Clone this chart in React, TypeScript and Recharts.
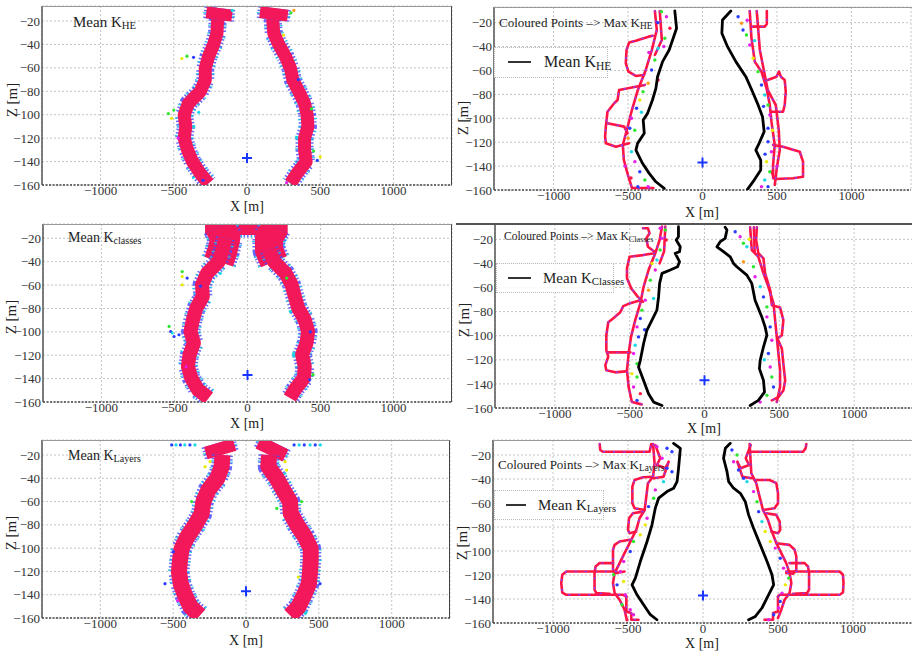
import React from "react";
import { ScatterChart, Scatter, XAxis, YAxis, CartesianGrid } from "recharts";

const xTicks = [-1000, -500, 0, 500, 1000];
const zTicks = [-160, -140, -120, -100, -80, -60, -40, -20];
const station = [[0, -137]];

// ---- Mean K_HE (cloud) ----
const heLeftBand = [[-171, -10.6], [-201, -20], [-205, -30.5], [-228, -40], [-263, -50.4], [-285, -60.4], [-285, -70.4], [-320, -80.3], [-400, -90.3], [-429, -100.2], [-418, -110.2], [-429, -120.1], [-406, -130.1], [-372, -140.1], [-320, -150], [-263, -158.6]];
const heRightBand = [[187, -10.6], [176, -20], [183, -30.5], [217, -40], [263, -50.4], [297, -60.4], [313, -70.4], [354, -80.3], [393, -90.3], [411, -100.2], [416, -110.2], [393, -120.1], [393, -130.1], [404, -140.1], [342, -150], [297, -158.6]];
const heLeftCap = [[-185, -9], [-195, -19]];
const heRightCap = [[188, -9], [178, -19]];
const heStrays = [[-537, -99, "g"], [-515, -103, "y"], [-500, -96, "g"], [-445, -52, "y"], [-410, -50, "g"], [-365, -51, "b"], [-330, -98, "c"], [-470, -120, "m"], [500, -136, "y"], [480, -139, "b"], [455, -131, "g"], [320, -11, "o"], [300, -13, "g"], [-100, -11, "c"], [440, -95, "g"], [-300, -156, "b"], [270, -158, "m"], [350, -70, "b"], [250, -32, "y"]];

// ---- Max K_HE ----
const heMeanLeft = [[-186, -10.2], [-174, -24.7], [-224, -42.9], [-268, -52.6], [-302, -65.2], [-313, -75], [-336, -84.7], [-369, -95.9], [-398, -101.5], [-391, -112.6], [-436, -121], [-447, -126.6], [-403, -137.7], [-358, -146.1], [-313, -153.1], [-257, -158.7]];
const heMeanRight = [[190, -10.2], [134, -17.8], [130, -28.9], [168, -40.1], [224, -52.6], [291, -65.2], [336, -77.8], [369, -87.5], [403, -98.7], [414, -111.2], [380, -121], [358, -126.6], [391, -135], [391, -143.3], [347, -151.7], [302, -159.5]];
const heMaxLeft = [
  [[-320, -10.2], [-307, -26.1], [-340, -42.8], [-381, -59.6], [-434, -76.3], [-474, -93.1], [-508, -109.8], [-535, -122.3], [-528, -134.9], [-501, -147.4], [-474, -158.3], [-330, -158.3]],
  [[-287, -10.2], [-273, -34.5], [-320, -47]],
  [[-334, -31], [-362, -31.7], [-448, -35.1], [-493, -36.7], [-510, -42.8], [-515, -54], [-497, -61], [-448, -64.6], [-392, -63.8]],
  [[-387, -72.1], [-448, -73.6], [-560, -76.3], [-570, -84.7], [-593, -87.4], [-638, -94.5], [-649, -107], [-654, -115.4], [-649, -120.9], [-582, -123.8], [-493, -120.9]],
  [[-638, -104.2], [-526, -107], [-503, -112.6]],
];
const heMaxRight = [
  [[317, -10.2], [329, -33.1], [351, -52.6], [396, -61], [430, -74.9], [452, -88.9], [463, -102.8], [485, -122.3], [474, -139.1], [474, -150.2]],
  [[329, -23.3], [418, -23.3], [432, -21.1], [432, -10.2]],
  [[438, -67.9], [497, -65.2], [514, -61], [526, -65.2], [552, -67.9], [559, -77.7], [552, -88.9], [541, -94.5], [465, -94.5]],
  [[474, -122.3], [541, -123.8], [574, -125.1], [653, -128], [675, -136.3], [675, -148.9], [608, -150.2], [485, -150.8], [463, -144.7]],
  [[364, -10.2], [385, -42.8], [438, -76.3], [492, -88.9], [512, -109.8], [519, -126.5], [499, -141.6], [485, -155.8]],
];
const heMaxPts = [[-275, -10.8, "g"], [-242, -15, "m"], [-219, -24.7, "r"], [-253, -33.1, "g"], [-298, -41.4, "c"], [-320, -51.2, "g"], [-342, -59.6, "b"], [-298, -68, "r"], [-365, -70.7, "o"], [-399, -77.7, "g"], [-421, -84.7, "y"], [-443, -91.6, "b"], [-477, -100, "m"], [-488, -108.4, "b"], [-499, -116.7, "o"], [-477, -128, "c"], [-454, -136.3, "m"], [-421, -144.7, "b"], [-387, -151.6, "g"], [-365, -157.2, "m"], [-434, -157.2, "b"], [-360, -45, "m"], [-410, -95, "c"], [-455, -110, "g"], [-300, -20, "b"], [-260, -40, "m"], [-520, -140, "m"], [-480, -150, "r"],
  [239, -15, "b"], [262, -20.5, "o"], [272, -26.1, "b"], [295, -30.3, "g"], [317, -38.7, "m"], [340, -49.8, "y"], [373, -61, "g"], [396, -72.1, "b"], [418, -80.5, "c"], [440, -88.9, "g"], [452, -97.2, "m"], [440, -108.4, "b"], [440, -119.6, "b"], [463, -128, "m"], [430, -136.3, "y"], [452, -144.7, "g"], [418, -151.6, "c"], [396, -157.2, "m"], [440, -157.2, "b"], [300, -18, "m"], [350, -35, "c"], [410, -90, "b"], [470, -110, "y"], [420, -130, "b"], [500, -140, "m"]];

// ---- Mean K_classes (cloud) ----
const clLeftBand = [[-152, -20], [-170, -30], [-197, -39.9], [-277, -49.9], [-311, -59.8], [-306, -69.8], [-351, -79.7], [-374, -89.7], [-390, -99.7], [-367, -109.6], [-397, -119.6], [-408, -129.5], [-385, -139.5], [-340, -149.4], [-265, -156.6]];
const clRightBand = [[147, -30], [181, -39.9], [261, -49.9], [302, -59.8], [324, -69.8], [347, -79.7], [392, -89.7], [415, -99.7], [404, -109.6], [374, -119.6], [392, -129.5], [386, -139.5], [324, -149.4], [290, -156.6]];
const clTopCap = [[-290, -12], [275, -12]];
const clLeftCap = [[-190, -10], [-152, -20], [-170, -30], [-197, -40]];
const clRightCap = [[190, -10], [147, -20], [147, -30], [181, -40]];
const clStrays = [[-447, -48.5, "g"], [-447, -52.7, "y"], [-413, -54, "b"], [-447, -59.8, "y"], [-537, -95.4, "g"], [-526, -99.7, "b"], [-503, -104, "b"], [-469, -102.5, "b"], [-515, -101, "c"], [449, -136.6, "g"], [426, -141, "b"], [268, -54, "g"], [-186, -50, "c"], [-322, -61, "b"], [430, -100, "b"], [-420, -130, "m"]];

// ---- Max K_Classes ----
const clMeanLeft = [[-174, -9.5], [-174, -17.8], [-189, -20.6], [-162, -26.2], [-167, -30.3], [-196, -31.6], [-167, -38.6], [-180, -42.8], [-229, -45.5], [-284, -48.3], [-300, -56.6], [-307, -67.8], [-318, -78.8], [-351, -87.1], [-385, -95.5], [-407, -106.5], [-429, -120.4], [-441, -126], [-407, -137.1], [-374, -148.1], [-340, -155.1], [-284, -157.9]];
const clMeanRight = [[138, -10], [150, -12.3], [138, -19.2], [105, -22], [83, -26.2], [127, -30.3], [172, -34.5], [194, -40], [216, -42.8], [283, -49.7], [316, -56.6], [338, -70.5], [383, -84.4], [405, -92.7], [417, -99.6], [394, -109.4], [372, -120.4], [367, -127.3], [394, -137.1], [401, -146.8], [360, -153.7], [305, -157.9]];
const clMaxLeft = [
  [[-284, -9.5], [-300, -20.6], [-329, -31.6], [-374, -45.5], [-407, -59.4], [-429, -73.2], [-463, -87.1], [-491, -101], [-507, -114.8], [-518, -128.7], [-507, -142.6], [-485, -155.1], [-420, -157]],
  [[-411, -10.8], [-378, -10.8], [-367, -15], [-389, -19.2], [-378, -26.2], [-334, -30.3]],
  [[-334, -31.6], [-411, -33.1], [-501, -34.5], [-518, -44.1], [-518, -52.4], [-489, -60.8], [-445, -67.8], [-411, -71.9]],
  [[-429, -70.5], [-496, -73], [-543, -75.5], [-563, -80.5], [-609, -85.5], [-643, -88.8], [-656, -99.6], [-656, -112.1], [-643, -117.1], [-663, -124.6], [-656, -128.7], [-596, -130.4], [-529, -129.6]],
  [[-650, -113.8], [-496, -113.8]],
  [[-262, -9.5], [-270, -30], [-300, -40]],
];
const clMaxRight = [
  [[305, -10], [316, -28.9], [360, -34.5], [394, -48.3], [427, -59.4], [461, -73.2], [472, -87.1], [483, -101], [494, -114.8], [505, -128.7], [505, -142.6], [483, -155.1]],
  [[350, -10], [345, -20.6], [360, -31.6], [394, -35.8], [405, -48.3], [439, -62.2], [450, -74.7], [505, -76.6], [527, -87.1], [517, -99.6], [487, -102.4], [517, -110.7], [527, -123.2], [539, -137.1], [527, -145.4], [494, -150.9], [450, -153.7]],
  [[330, -10], [335, -30]],
];
const clMaxPts = [[-296, -10.8, "m"], [-262, -12.3, "g"], [-284, -19.2, "m"], [-256, -20.6, "r"], [-296, -28.9, "g"], [-318, -37.2, "c"], [-329, -45.5, "m"], [-362, -53.9, "g"], [-374, -62.2, "o"], [-340, -69.1, "c"], [-396, -70.5, "m"], [-418, -78.8, "g"], [-429, -85.7, "b"], [-451, -92.7, "m"], [-441, -101, "b"], [-463, -107.9, "c"], [-474, -114.8, "m"], [-451, -123.2, "g"], [-485, -131.5, "y"], [-451, -134.3, "g"], [-474, -142.6, "m"], [-429, -148.1, "r"], [-451, -153.7, "b"], [-350, -40, "y"], [-400, -95, "b"],
  [205, -13.7, "b"], [238, -17.8, "m"], [260, -23.3, "g"], [283, -26.2, "c"], [260, -38.6, "o"], [327, -42.8, "g"], [338, -51.1, "m"], [372, -59.4, "c"], [394, -67.8, "b"], [417, -76.1, "g"], [417, -84.4, "m"], [439, -92.7, "b"], [450, -103.8, "m"], [427, -114.8, "b"], [439, -126, "m"], [450, -134.3, "g"], [461, -142.6, "b"], [417, -149.5, "g"], [372, -155.1, "m"], [300, -20, "y"], [400, -120, "c"]];

// ---- Mean K_Layers (cloud) ----
const lyLeftBand = [[-162, -20], [-167, -30], [-197, -40.1], [-259, -50.1], [-293, -60.2], [-304, -70.2], [-350, -80.3], [-403, -90.3], [-442, -100.4], [-453, -110.4], [-460, -120.5], [-448, -130.5], [-419, -140.5], [-380, -150.6], [-316, -157.8]];
const lyRightBand = [[158, -20], [153, -30], [211, -40.1], [256, -50.1], [302, -60.2], [307, -70.2], [352, -80.3], [405, -90.3], [444, -100.4], [444, -110.4], [439, -120.5], [432, -130.5], [398, -140.5], [359, -150.6], [302, -157.8]];
const lyLeftCap = [[-190, -9.5], [-165, -20]];
const lyRightCap = [[199, -9.5], [158, -20]];
const lyStrays = [[-510, -11.3, "b"], [-480, -11.3, "c"], [-450, -11.3, "b"], [-420, -11.3, "c"], [-385, -11.3, "b"], [-350, -11.3, "c"], [330, -11.3, "b"], [365, -11.3, "c"], [400, -11.3, "b"], [440, -11.3, "c"], [475, -11.3, "b"], [510, -11.3, "c"], [-247, -25.7, "y"], [-281, -30, "y"], [268, -25.7, "y"], [279, -32.9, "y"], [-373, -60, "g"], [211, -65.9, "g"], [382, -60, "g"], [359, -124.8, "y"], [-499, -103, "b"], [-556, -130.5, "b"], [508, -130.5, "b"], [-470, -145, "m"]];

// ---- Max K_Layers ----
const lyMeanLeft = [[-196, -10.3], [-151, -14.4], [-163, -31.1], [-173, -42.2], [-196, -47.7], [-240, -50.5], [-296, -56], [-318, -64.3], [-340, -78.2], [-373, -92.1], [-418, -108.8], [-451, -122.6], [-473, -128.2], [-440, -136.5], [-396, -144.8], [-351, -153.1], [-307, -157.3]];
const lyMeanRight = [[182, -10.3], [149, -14.4], [137, -22.7], [160, -33.9], [171, -42.2], [204, -47.7], [249, -51.9], [282, -58.9], [304, -69.9], [337, -81], [382, -94.9], [427, -108.8], [460, -119.8], [471, -128.2], [437, -136.5], [393, -147.5], [349, -154.5], [304, -157.3]];
const lyMaxLeft = [
  [[-689, -10.8], [-685, -15.8], [-667, -17.3], [-356, -17.3], [-345, -10.8]],
  [[-333, -10.8], [-323, -26.9], [-333, -38.1], [-367, -43.5], [-378, -54.7], [-389, -65.8], [-423, -72.7], [-445, -82.4], [-489, -93.5], [-523, -101.8], [-556, -110.1], [-589, -118.4], [-600, -126.7], [-589, -135.1], [-556, -140.6], [-523, -148.9], [-511, -155.9]],
  [[-333, -38.1], [-400, -38.6], [-456, -40.8], [-471, -46.4], [-471, -60.2], [-456, -64.4], [-389, -65.8]],
  [[-400, -67.2], [-467, -68.5], [-493, -72.7], [-500, -82.4], [-489, -85.2], [-445, -83.8]],
  [[-489, -90.7], [-556, -92.1], [-589, -94.9], [-600, -99], [-600, -115.7], [-578, -118.4], [-523, -117.1]],
  [[-578, -117.1], [-911, -117.1], [-938, -119.8], [-945, -126.7], [-938, -134.6], [-911, -136.5], [-533, -136.5], [-511, -137.9]],
  [[-600, -110.1], [-689, -110.1], [-716, -112.9], [-723, -118.4], [-723, -132.3], [-711, -135.1], [-623, -135.6]],
  [[-511, -137.9], [-511, -150.4], [-478, -151.7], [-478, -157.3], [-430, -157.3]],
  [[-318, -11.7], [-285, -22.7], [-307, -28.3], [-251, -31.1], [-229, -25.6], [-263, -38.1], [-329, -39.4]],
];
const lyMaxRight = [
  [[311, -17.3], [667, -17.3], [684, -14.5], [689, -10.8]],
  [[311, -10.8], [322, -35.2], [355, -43.5], [377, -54.7], [400, -65.8], [433, -74.1], [455, -82.4], [489, -93.5], [522, -101.8], [555, -110.1], [577, -118.4], [589, -126.7], [577, -135.1], [544, -140.6], [522, -148.9], [500, -155.9]],
  [[344, -40.8], [444, -40.8], [489, -43.5], [500, -51.9], [500, -60.2], [477, -64.4], [400, -65.8]],
  [[422, -68.5], [489, -69.9], [511, -75.5], [515, -82.4], [500, -85.2], [455, -83.8]],
  [[489, -93.5], [577, -94.9], [611, -99], [622, -104.6], [622, -115.7], [600, -119], [555, -118.4]],
  [[555, -117.1], [911, -117.1], [933, -119.8], [937, -126.7], [933, -134.6], [911, -136.5], [511, -136.5], [500, -137.9]],
  [[577, -110.1], [677, -110.1], [700, -112.9], [707, -118.4], [707, -132.3], [693, -135.1], [600, -135.6]],
  [[500, -137.9], [500, -150.4], [467, -151.7], [467, -157.3], [410, -157.3]],
  [[318, -11.7], [285, -22.7], [307, -28.3], [251, -31.1], [229, -25.6], [263, -38.1], [329, -39.4]],
];
const lyMaxPts = [[-307, -13.1, "m"], [-240, -14.4, "b"], [-207, -17.3, "b"], [-273, -22.7, "m"], [-240, -31.1, "b"], [-207, -33.9, "b"], [-263, -42.2, "c"], [-318, -49.1, "m"], [-329, -56, "g"], [-363, -63, "b"], [-373, -72.7, "m"], [-385, -78.2, "y"], [-418, -86.6, "y"], [-463, -92.1, "g"], [-485, -100.4, "b"], [-529, -108.8, "m"], [-551, -117.1, "m"], [-596, -119.8, "g"], [-573, -128.2, "b"], [-529, -125.4, "y"], [-518, -136.5, "m"], [-540, -144.8, "g"], [-485, -149, "m"], [-463, -153.1, "m"], [-507, -157.3, "r"],
  [193, -15.8, "b"], [227, -20, "g"], [204, -25.6, "m"], [237, -32.5, "b"], [271, -39.4, "b"], [293, -42.2, "c"], [337, -50.5, "m"], [360, -58.9, "g"], [371, -67.2, "b"], [393, -75.5, "c"], [415, -83.8, "y"], [449, -92.1, "y"], [482, -97.6, "m"], [515, -106, "b"], [537, -114.3, "m"], [571, -122.6, "g"], [549, -128.2, "y"], [527, -135.1, "m"], [515, -142, "b"], [504, -147.5, "m"], [471, -153.1, "b"], [437, -157.3, "m"]];

const palette: Record<string, string> = { r: "#ff1744", g: "#2ee62e", b: "#2a3cff", c: "#19d9e6", m: "#e61ee6", y: "#eaea00", o: "#ff9a1a" };
const serif = '"Liberation Serif", "Times New Roman", serif';
const RED = "#ff1446";

const toPts = (a: number[][]) => a.map(([x, z]) => ({ x, z }));
const toDots = (a: any[]) => a.map(([x, z, c]) => ({ x, z, c: palette[c] }));
const fmt = (v: number) => String(v).replace("-", "\u2212");

const noShape = () => <g />;
const dotShape = (r: number) => (p: any) => <circle cx={p.cx} cy={p.cy} r={r} fill={p.payload ? p.payload.c : p.c} />;
const crossShape = (p: any) => <path d={`M${p.cx - 5},${p.cy}h10M${p.cx},${p.cy - 5}v10`} stroke="#1836ff" strokeWidth={2} fill="none" />;

function trace(key: string, data: number[][], stroke: string, width: number, extra: any = {}) {
  return (
    <Scatter key={key} data={toPts(data)} shape={noShape} isAnimationActive={false}
      line={{ stroke, strokeWidth: width, strokeLinejoin: "round", strokeLinecap: "round", fill: "none", ...extra }} />
  );
}

// dense point cloud drawn as a speckled band along its centre line
function cloud(key: string, data: number[][], w: number) {
  return [
    trace(key + "a", data, "#4a4cff", w + 5, { strokeDasharray: "1.5 2", strokeLinecap: "butt", strokeOpacity: 0.85 }),
    trace(key + "b", data, "#22cfe0", w + 6, { strokeDasharray: "1 9", strokeDashoffset: 4, strokeLinecap: "butt" }),
    trace(key + "c", data, "#f2185a", w, { strokeLinecap: "butt" }),
  ];
}

function redTraces(key: string, list: number[][][]) {
  return list.flatMap((d, i) => [
    trace(key + i, d, RED, 2.6),
    trace(key + i + "s", d, "#8a3cff", 1.4, { strokeDasharray: "1 9" }),
  ]);
}

function dots(key: string, data: any[], r: number) {
  return <Scatter key={key} data={toDots(data)} shape={dotShape(r)} isAnimationActive={false} />;
}

function Panel(props: any) {
  const { left, top, width, height, margin, xH, zTop, children } = props;
  return (
    <div style={{ position: "absolute", left, top }}>
      <ScatterChart width={width} height={height} margin={margin}>
        <CartesianGrid stroke="#c4c4c4" strokeDasharray="2 2" />
        <XAxis type="number" dataKey="x" domain={[-1400, 1400]} ticks={xTicks} allowDataOverflow height={xH}
          tickLine={false} tickSize={0} tickMargin={1} axisLine={{ stroke: "#444", strokeWidth: 1.5, strokeDasharray: "2 1.5" }}
          tick={{ fill: "#333", fontSize: 13, fontFamily: serif }} tickFormatter={fmt} />
        <YAxis type="number" dataKey="z" domain={[-160, zTop]} ticks={zTicks} allowDataOverflow width={36}
          tickLine={false} tickSize={0} tickMargin={2} axisLine={{ stroke: "#555", strokeWidth: 1.5 }}
          tick={{ fill: "#333", fontSize: 13, fontFamily: serif }} tickFormatter={fmt} />
        {children}
        <Scatter data={toPts(station)} shape={crossShape} isAnimationActive={false} />
      </ScatterChart>
    </div>
  );
}

const Sub = ({ t }: { t: string }) => (
  <span style={{ fontSize: "0.72em", position: "relative", top: "0.2em" }}>{t}</span>
);

function Txt({ x, y, size, children, center }: any) {
  return (
    <div style={{ position: "absolute", left: x, top: y - size * 0.6, fontFamily: serif, fontSize: size, lineHeight: 1.2,
      color: "#222", whiteSpace: "nowrap", transform: center ? "translateX(-50%)" : undefined }}>{children}</div>
  );
}

function XLabel({ x, y }: any) {
  return (
    <div style={{ position: "absolute", left: x, top: y, fontFamily: serif, fontSize: 14, lineHeight: 1, color: "#222",
      whiteSpace: "nowrap", transform: "translate(-50%, -50%)" }}>X [m]</div>
  );
}

function ZLabel({ x, y }: any) {
  return (
    <div style={{ position: "absolute", left: x, top: y, fontFamily: serif, fontSize: 15, color: "#222", whiteSpace: "nowrap",
      transform: "translate(-50%, -50%) rotate(-90deg)" }}>Z [m]</div>
  );
}

function LegendBox({ x, y, w, h, lineX1, lineX2, lineY }: any) {
  return (
    <>
      <div style={{ position: "absolute", left: x, top: y, width: w, height: h, border: "1px dotted #bbb", background: "rgba(255,255,255,0.85)", boxSizing: "border-box" }} />
      <div style={{ position: "absolute", left: lineX1, top: lineY - 1, width: lineX2 - lineX1, height: 1.5, background: "#333" }} />
    </>
  );
}

function Frame({ x, y, w, h, right }: any) {
  return (
    <div style={{ position: "absolute", left: x, top: y, width: w, height: h, boxSizing: "border-box",
      borderTop: "1px solid #999", borderRight: right ? "1.5px solid #444" : "none", pointerEvents: "none" }} />
  );
}

export default function App() {
  return (
    <div style={{ position: "absolute", left: 0, top: 0, width: 912, height: 652, overflow: "hidden", background: "#fff" }}>
      {/* top left */}
      <Panel left={0} top={0} width={456} height={215} margin={{ top: 6, right: 4, bottom: 0, left: 6 }} xH={30} zTop={-7.2}>
        {cloud("heL", heLeftBand, 13)}
        {cloud("heR", heRightBand, 13)}
        {cloud("heLc", heLeftCap, 26)}
        {cloud("heRc", heRightCap, 28)}
        {dots("heS", heStrays, 1.6)}
      </Panel>
      {/* top right */}
      <Panel left={456} top={0} width={456} height={215} margin={{ top: 7, right: 1, bottom: 0, left: 2 }} xH={25} zTop={-6.9}>
        {redTraces("heML", heMaxLeft)}
        {redTraces("heMR", heMaxRight)}
        {dots("heMP", heMaxPts, 1.7)}
        {trace("heMeanL", heMeanLeft, "#000", 2.8)}
        {trace("heMeanR", heMeanRight, "#000", 2.8)}
      </Panel>
      {/* middle left */}
      <Panel left={0} top={210} width={456} height={220} margin={{ top: 14, right: 4, bottom: 0, left: 7 }} xH={28} zTop={-7.8}>
        {cloud("clT", clTopCap, 12)}
        {cloud("clLc", clLeftCap, 30)}
        {cloud("clRc", clRightCap, 28)}
        {cloud("clL", clLeftBand, 14)}
        {cloud("clR", clRightBand, 14)}
        {dots("clS", clStrays, 1.6)}
      </Panel>
      {/* middle right */}
      <Panel left={456} top={210} width={458} height={220} margin={{ top: 14, right: 0, bottom: 0, left: 3 }} xH={22} zTop={-7.3}>
        {redTraces("clML", clMaxLeft)}
        {redTraces("clMR", clMaxRight)}
        {dots("clMP", clMaxPts, 1.7)}
        {trace("clMeanL", clMeanLeft, "#000", 2.8)}
        {trace("clMeanR", clMeanRight, "#000", 2.8)}
      </Panel>
      {/* bottom left */}
      <Panel left={0} top={430} width={456} height={222} margin={{ top: 10, right: 6, bottom: 0, left: 6 }} xH={34} zTop={-7.1}>
        {cloud("lyLc", lyLeftCap, 30)}
        {cloud("lyRc", lyRightCap, 30)}
        {cloud("lyL", lyLeftBand, 16)}
        {cloud("lyR", lyRightBand, 16)}
        {dots("lyS", lyStrays, 1.6)}
      </Panel>
      {/* bottom right */}
      <Panel left={456} top={430} width={457} height={222} margin={{ top: 10, right: 0, bottom: 0, left: 1 }} xH={29} zTop={-7.5}>
        {redTraces("lyML", lyMaxLeft)}
        {redTraces("lyMR", lyMaxRight)}
        {dots("lyMP", lyMaxPts, 1.7)}
        {trace("lyMeanL", lyMeanLeft, "#000", 2.8)}
        {trace("lyMeanR", lyMeanRight, "#000", 2.8)}
      </Panel>

      <Frame x={42} y={6} w={410} h={179} right />
      <Frame x={43} y={224} w={409} h={178} right />
      <Frame x={42} y={440} w={408} h={178} right />
      <Frame x={494} y={7} w={418} h={183} />
      <div style={{ position: "absolute", left: 456, top: 223, width: 456, height: 2, background: "#555" }} />
      <Frame x={493} y={440} w={419} h={183} />

      {/* panel titles / legends */}
      <Txt x={73} y={22} size={15}>Mean K<Sub t="HE" /></Txt>
      <Txt x={68} y={238} size={14}>Mean K<Sub t="classes" /></Txt>
      <Txt x={68} y={456} size={14}>Mean K<Sub t="Layers" /></Txt>

      <LegendBox x={494} y={47} w={114} h={31} lineX1={508} lineX2={531} lineY={62} />
      <Txt x={499} y={23} size={13}>Coloured Points –&gt; Max K<Sub t="HE" /></Txt>
      <Txt x={544} y={62} size={16}>Mean K<Sub t="HE" /></Txt>

      <LegendBox x={496} y={263} w={118} h={30} lineX1={508} lineX2={531} lineY={278} />
      <Txt x={504} y={237} size={11.5}>Coloured Points –&gt; Max K<Sub t="Classes" /></Txt>
      <Txt x={543} y={278} size={15}>Mean K<Sub t="Classes" /></Txt>

      <LegendBox x={494} y={490} w={110} h={30} lineX1={506} lineX2={526} lineY={505} />
      <Txt x={498} y={465} size={13}>Coloured Points –&gt; Max K<Sub t="Layers" /></Txt>
      <Txt x={538} y={505} size={15}>Mean K<Sub t="Layers" /></Txt>

      {/* axis titles */}
      <XLabel x={247} y={207} />
      <XLabel x={702} y={213} />
      <XLabel x={247} y={424} />
      <XLabel x={704} y={429} />
      <XLabel x={246} y={641} />
      <XLabel x={702} y={644} />
      <ZLabel x={12} y={100} />
      <ZLabel x={463} y={118} />
      <ZLabel x={11} y={317} />
      <ZLabel x={464} y={320} />
      <ZLabel x={11} y={533} />
      <ZLabel x={462} y={543} />
    </div>
  );
}
